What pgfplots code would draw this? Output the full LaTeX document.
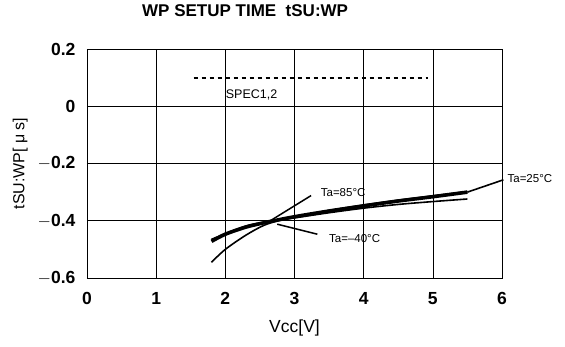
\documentclass[border=0pt]{standalone}
\usepackage{fontspec}
\setmainfont{Liberation Sans}
\usepackage{pgfplots}
\pgfplotsset{compat=1.18}
\begin{document}
\begin{tikzpicture}
\begin{axis}[
  scale only axis, width=415pt, height=229pt,
  xmin=0, xmax=6, ymin=-0.6, ymax=0.2,
  xtick={0,1,2,3,4,5,6}, ytick={-0.6,-0.4,-0.2,0,0.2},
  yticklabels={$-$0.6,$-$0.4,$-$0.2,0,0.2},
  grid=major, major grid style={black, line width=0.6pt},
  major tick length=0pt,
  axis line style={black, line width=0.9pt},
  /pgf/number format/assume math mode=true,
  ticklabel style={font=\fontsize{17.5}{18}\selectfont\bfseries},
  yticklabel style={xshift=-8pt},
  xticklabel style={yshift=-11pt},
  title={WP SETUP TIME\ \ tSU:WP},
  title style={at={(0.381,1.14)}, anchor=center, font=\fontsize{17}{17}\selectfont\bfseries},
  xlabel={Vcc[V]},
  xlabel style={at={(0.5,-0.218)}, anchor=center, font=\fontsize{17.5}{18}\selectfont},
  ylabel={tSU:WP[ μ s]},
  ylabel style={at={(-0.161,0.5)}, anchor=center, font=\fontsize{16}{16}\selectfont},
  clip=false,
]
\coordinate (bl) at (rel axis cs:0,0);
% SPEC line
\addplot[black, line width=2pt, dash pattern=on 4pt off 4pt] coordinates {(1.54,0.1) (4.93,0.1)};
\node[font=\fontsize{12.5}{13}\selectfont] at (axis cs:2.38,0.038) {SPEC1,2};
% Ta=85
\addplot[black, line width=1.6pt, smooth] coordinates {
(1.8,-0.545) (2.0,-0.5) (2.3,-0.45) (2.6,-0.412) (3,-0.387) (3.5,-0.364) (4,-0.345) (4.5,-0.328) (5,-0.313) (5.5,-0.298)};
% Ta=-40
\addplot[black, line width=1.6pt, smooth] coordinates {
(1.8,-0.465) (2.3,-0.418) (2.7,-0.40) (3,-0.39) (3.5,-0.372) (4,-0.356) (4.5,-0.343) (5,-0.333) (5.5,-0.324)};
% Ta=25 thick
\addplot[black, line width=3.6pt, smooth] coordinates {
(1.8,-0.472) (2.0,-0.447) (2.3,-0.422) (2.6,-0.405) (3,-0.386) (3.5,-0.366) (4,-0.348) (4.5,-0.331) (5,-0.316) (5.5,-0.300)};
\addplot[black, line width=1.6pt] coordinates {(5.5,-0.300) (6.02,-0.257)};
% leader lines
\addplot[black, line width=1.5pt] coordinates {(2.61,-0.406) (3.24,-0.312)};
\addplot[black, line width=1.5pt] coordinates {(2.75,-0.412) (3.33,-0.447)};
\node[anchor=west, font=\fontsize{11.5}{12}\selectfont] at (axis cs:3.33,-0.303) {Ta=85°C};
\node[anchor=west, font=\fontsize{11.5}{12}\selectfont] at (axis cs:3.45,-0.463) {Ta=–40°C};
\node[anchor=west, font=\fontsize{11.5}{12}\selectfont] at (axis cs:6.03,-0.253) {Ta=25°C};
\end{axis}
\useasboundingbox ([shift={(-87pt,-69pt)}]bl) rectangle ++(565pt,347pt);
\end{tikzpicture}
\end{document}
